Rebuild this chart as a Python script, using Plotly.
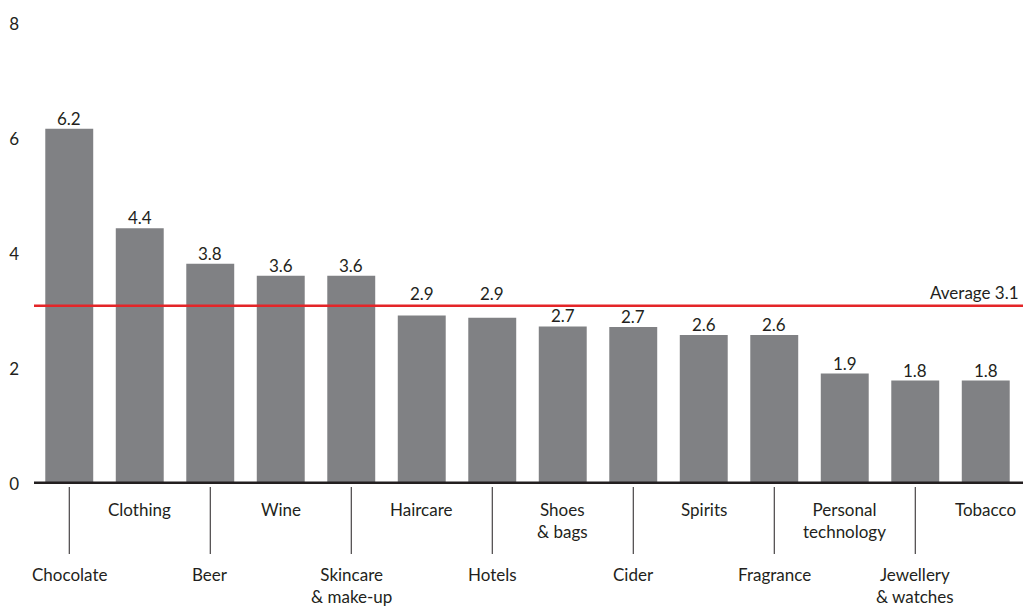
import plotly.graph_objects as go

categories = ["Chocolate", "Clothing", "Beer", "Wine", "Skincare<br>& make-up", "Haircare",
              "Hotels", "Shoes<br>& bags", "Cider", "Spirits", "Fragrance",
              "Personal<br>technology", "Jewellery<br>& watches", "Tobacco"]
values = [6.18, 4.45, 3.83, 3.62, 3.62, 2.93, 2.89, 2.74, 2.73, 2.59, 2.59, 1.92, 1.80, 1.80]
value_labels = ["6.2", "4.4", "3.8", "3.6", "3.6", "2.9", "2.9", "2.7", "2.7", "2.6", "2.6", "1.9", "1.8", "1.8"]
average = 3.1
average_label = "Average 3.1"
y_ticks = [0, 2, 4, 6, 8]

FONT = "Lato"
FS = 17
TXT = "#231f20"
BAR = "#808184"
RED = "#e42528"

fig = go.Figure()
fig.add_trace(go.Bar(
    x=list(range(len(categories))), y=values,
    marker=dict(color=BAR, line=dict(width=0)),
    hoverinfo="skip",
))

H = 460.0  # plot height in px
shapes = []
annotations = []
# red average line
shapes.append(dict(type="line", xref="paper", yref="y", x0=0, x1=1.01, y0=average, y1=average,
                   line=dict(color=RED, width=2.5), layer="above"))
annotations.append(dict(text=average_label, xref="paper", yref="y", x=1.0, y=average,
                        xanchor="right", yanchor="bottom", yshift=1, showarrow=False,
                        font=dict(family=FONT, size=FS, color=TXT)))
# thick baseline
shapes.append(dict(type="line", xref="paper", yref="y", x0=0, x1=1.01, y0=0, y1=0,
                   line=dict(color=TXT, width=5), layer="above"))

# value labels (those just under the average line are lifted above it)
for i, (v, lab) in enumerate(zip(values, value_labels)):
    lifted = v < average and average - v < 0.3
    annotations.append(dict(text=lab, xref="x", yref="y", x=i, y=average if lifted else v,
                            xanchor="center", yanchor="bottom", yshift=0 if lifted else -2,
                            showarrow=False, font=dict(family=FONT, size=FS, color=TXT)))

for i, c in enumerate(categories):
    if i % 2 == 0:
        shapes.append(dict(type="line", xref="x", yref="paper", x0=i, x1=i,
                           y0=-3 / H, y1=-70 / H, line=dict(color=TXT, width=1)))
        ytop = -(562 - 484) / H
    else:
        ytop = -(497 - 484) / H
    annotations.append(dict(text=c, xref="x", yref="paper", x=i, y=ytop,
                            xanchor="center", yanchor="top", showarrow=False,
                            font=dict(family=FONT, size=FS, color=TXT)))

fig.update_layout(
    width=1023, height=607,
    margin=dict(l=34, r=2, t=24, b=123),
    paper_bgcolor="white", plot_bgcolor="white",
    showlegend=False, bargap=0.32,
    font=dict(family=FONT, size=FS, color=TXT),
    xaxis=dict(range=[-0.5, 13.5], showticklabels=False, showgrid=False, zeroline=False,
               ticks="", showline=False, fixedrange=True),
    yaxis=dict(range=[0, 8], tickvals=y_ticks, showgrid=False, zeroline=False, ticks="",
               showline=False, ticklabelstandoff=14, fixedrange=True,
               tickfont=dict(family=FONT, size=FS, color=TXT)),
    shapes=shapes, annotations=annotations,
)

fig.write_html("out.html", config={"displayModeBar": False})
